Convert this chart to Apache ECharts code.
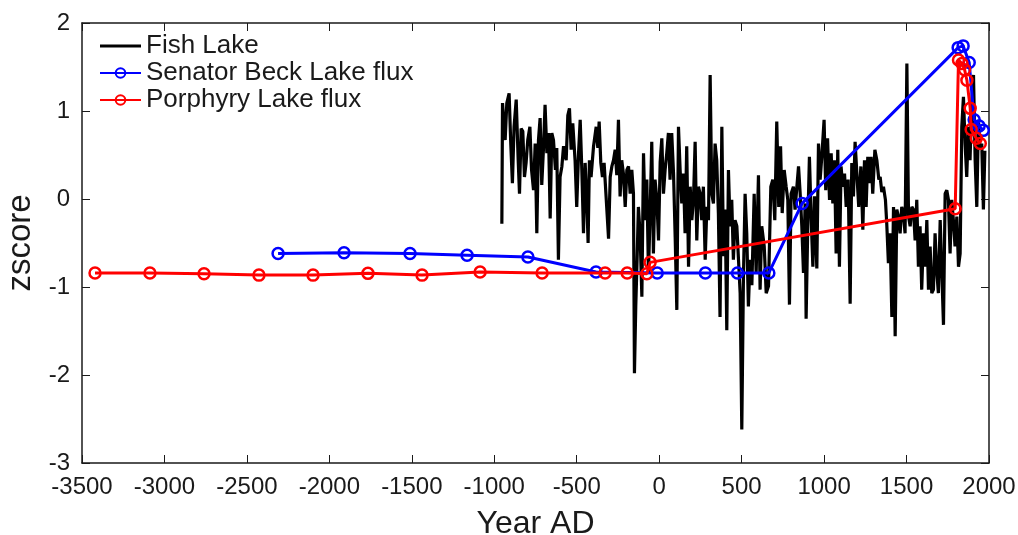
<!DOCTYPE html>
<html>
<head>
<meta charset="utf-8">
<script src="https://cdn.jsdelivr.net/npm/echarts@6/dist/echarts.min.js"></script>
<style>
  html, body { margin: 0; padding: 0; background: #fff; }
  #chart { width: 1018px; height: 535px; }
</style>
</head>
<body>
<div id="chart"></div>
<script>
// Fish Lake record [year AD, zscore]
const fishLake = [
  [-954,-0.28],[-950,1.09],[-944,1.11],[-934,0.67],[-924,1.09],[-910,1.20],[-900,0.63],[-890,0.18],
  [-880,0.82],[-867,1.13],[-855,0.44],[-847,0.06],[-837,0.80],[-827,0.77],[-817,0.25],[-807,0.41],
  [-797,0.67],[-784,0.82],[-774,0.33],[-762,0.10],[-752,0.63],[-742,-0.39],[-732,0.67],[-722,0.92],
  [-712,0.16],[-702,0.56],[-692,1.07],[-681,0.52],[-671,0.75],[-661,-0.22],[-651,0.75],[-641,0.67],
  [-629,0.33],[-621,0.58],[-611,-0.69],[-601,0.25],[-590,0.37],[-580,0.60],[-564,0.44],[-554,0.95],
  [-544,1.03],[-534,0.56],[-524,0.86],[-510,0.44],[-500,-0.09],[-489,0.52],[-479,0.90],[-469,0.33],
  [-459,-0.39],[-449,0.41],[-439,-0.01],[-431,-0.50],[-423,0.44],[-413,0.25],[-398,0.60],[-382,0.82],
  [-372,0.58],[-364,0.88],[-354,0.41],[-344,0.25],[-334,0.41],[-322,0.03],[-307,-0.45],[-297,0.25],
  [-287,0.37],[-277,0.44],[-267,0.56],[-257,0.27],[-247,0.90],[-237,0.03],[-227,0.44],[-217,0.29],
  [-206,-0.09],[-196,0.33],[-186,0.37],[-176,0.06],[-166,0.33],[-156,0.06],[-150,-1.98],[-142,-1.22],
  [-134,-0.69],[-126,-0.09],[-116,-0.39],[-105,-1.11],[-95,0.52],[-85,-0.24],[-75,0.22],[-65,-0.84],
  [-55,-0.16],[-45,0.65],[-35,-0.62],[-25,0.22],[-14,-0.01],[-4,-0.47],[6,0.42],[16,0.69],
  [26,0.06],[36,0.33],[46,0.52],[56,0.75],[66,0.22],[76,0.75],[87,0.29],[97,-0.43],
  [107,-1.26],[117,0.82],[127,0.33],[137,-0.05],[147,0.29],[157,-0.39],[167,0.60],[178,-0.77],
  [188,0.14],[198,-0.24],[208,-0.01],[218,0.65],[228,-0.47],[238,0.14],[248,0.06],[258,-0.24],
  [268,0.14],[279,-0.69],[289,-0.09],[299,-0.24],[309,1.41],[319,0.06],[329,-0.05],[339,0.63],
  [349,0.44],[359,-0.16],[369,-1.34],[380,0.82],[390,-0.65],[400,-0.12],[410,-1.49],[420,0.33],
  [430,-0.31],[440,-0.01],[450,-0.69],[460,-0.24],[471,-0.31],[481,-0.69],[491,-1.07],[501,-2.62],
  [511,-0.88],[521,0.06],[531,-0.39],[541,-1.22],[551,-0.69],[562,-0.98],[576,0.06],[588,-0.84],
  [602,0.27],[612,-1.03],[622,-0.31],[637,-0.54],[649,-1.07],[663,-0.99],[677,0.14],[689,0.22],
  [701,-0.24],[713,0.88],[725,-0.09],[736,0.60],[746,-0.16],[758,0.33],[770,0.14],[780,-0.01],
  [790,-1.20],[800,0.06],[814,0.14],[824,-0.12],[835,0.14],[845,0.37],[855,0.06],[865,-0.31],
  [875,-0.84],[885,-0.05],[891,-1.36],[901,-0.31],[911,0.48],[922,-0.24],[932,-0.77],[942,0.03],
  [956,-0.79],[966,0.63],[976,0.22],[986,0.48],[1000,0.90],[1010,0.10],[1021,0.69],[1033,-0.01],
  [1043,0.52],[1053,-0.05],[1063,0.44],[1073,-0.62],[1083,0.56],[1093,-0.77],[1103,0.37],[1113,0.14],
  [1124,0.29],[1134,-0.09],[1146,0.22],[1158,-1.19],[1168,0.41],[1178,0.03],[1188,0.65],[1198,0.67],
  [1210,-0.09],[1223,0.37],[1235,-0.35],[1245,0.44],[1255,-0.09],[1265,0.48],[1275,0.18],[1285,0.48],
  [1295,0.06],[1308,0.56],[1320,0.44],[1332,0.22],[1340,0.25],[1350,0.08],[1360,0.14],[1372,-0.01],
  [1380,-0.28],[1390,-0.73],[1400,-0.39],[1411,-1.34],[1421,-0.09],[1431,-1.56],[1441,-0.12],[1451,-0.20],
  [1461,-0.39],[1471,-0.09],[1481,-0.16],[1491,-0.39],[1502,1.54],[1512,-0.20],[1522,-0.31],[1532,-0.09],
  [1542,-0.12],[1552,-0.47],[1562,-0.01],[1572,-0.77],[1582,-0.31],[1592,-1.03],[1603,-0.39],[1613,-0.77],
  [1623,-0.24],[1633,-1.03],[1643,-0.54],[1653,-1.07],[1663,-1.03],[1673,-0.39],[1683,-0.81],[1693,-1.07],
  [1704,-0.24],[1714,-0.84],[1724,-1.43],[1734,0.06],[1744,0.10],[1754,-0.01],[1764,-0.62],[1774,-0.01],
  [1784,-0.24],[1794,-0.54],[1805,-0.20],[1815,-0.77],[1825,-0.62],[1835,0.82],[1845,1.16],[1855,0.63],
  [1865,0.25],[1875,0.82],[1885,0.44],[1895,1.09],[1906,1.41],[1916,0.44],[1926,-0.09],[1936,0.90],
  [1946,0.56],[1956,0.63],[1966,-0.12],[1975,0.55]
];

// Senator Beck Lake flux [year AD, zscore]
const senatorBeck = [
  [-2311,-0.62],[-1911,-0.61],[-1511,-0.62],[-1165,-0.64],[-796,-0.66],[-383,-0.83],
  [-12,-0.84],[280,-0.84],[475,-0.84],[665,-0.84],[867,-0.05],[1813,1.72],[1843,1.74],
  [1880,1.55],[1910,0.90],[1940,0.83],[1965,0.78]
];

// Porphyry Lake flux [year AD, zscore]
const porphyry = [
  [-3421,-0.84],[-3088,-0.84],[-2760,-0.85],[-2427,-0.865],[-2099,-0.865],[-1766,-0.845],
  [-1438,-0.865],[-1086,-0.83],[-710,-0.84],[-328,-0.84],[-194,-0.84],[-75,-0.85],[-55,-0.72],
  [1795,-0.11],[1815,1.58],[1836,1.54],[1852,1.47],[1866,1.35],[1886,1.03],[1892,0.79],
  [1923,0.69],[1947,0.63]
];

const seriesNames = ['Fish Lake', 'Senator Beck Lake flux', 'Porphyry Lake flux'];

const font = "'Liberation Sans', Arial, Helvetica, sans-serif";
const chart = echarts.init(document.getElementById('chart'));

const frameLine = { show: true, onZero: false, lineStyle: { color: '#1a1a1a', width: 1.5 } };
const innerTick = { show: true, inside: true, length: 8, lineStyle: { color: '#1a1a1a', width: 1 } };
const plainNum = (v) => String(v);

const option = {
  animation: false,
  backgroundColor: '#fff',
  textStyle: { fontFamily: font },
  grid: { left: 82, right: 29, top: 23, bottom: 72, containLabel: false, outerBoundsMode: 'none' },
  legend: {
    data: [
      { name: seriesNames[0], icon: 'path://M0,0 L40,0 L40,3 L0,3 Z' },
      { name: seriesNames[1] },
      { name: seriesNames[2] }
    ],
    orient: 'vertical',
    left: 94,
    top: 28,
    itemWidth: 41,
    itemHeight: 12,
    itemGap: 1,
    textStyle: { fontSize: 26, color: '#1a1a1a', fontFamily: font }
  },
  xAxis: [
    {
      type: 'value', min: -3500, max: 2000, interval: 500,
      name: 'Year AD', nameLocation: 'middle', nameGap: 45,
      nameTextStyle: { fontSize: 32, color: '#1a1a1a', fontFamily: font },
      axisLine: frameLine, axisTick: innerTick,
      axisLabel: { fontSize: 24, color: '#1a1a1a', margin: 12, fontFamily: font, formatter: plainNum },
      splitLine: { show: false }
    },
    {
      type: 'value', min: -3500, max: 2000, interval: 500, position: 'top',
      axisLine: frameLine, axisTick: innerTick,
      axisLabel: { show: false }, splitLine: { show: false }
    }
  ],
  yAxis: [
    {
      type: 'value', min: -3, max: 2, interval: 1,
      name: 'zscore', nameLocation: 'middle', nameGap: 39,
      nameTextStyle: { fontSize: 33, color: '#1a1a1a', fontFamily: font },
      axisLine: frameLine, axisTick: innerTick,
      axisLabel: { fontSize: 24, color: '#1a1a1a', margin: 12, fontFamily: font, formatter: plainNum },
      splitLine: { show: false }
    },
    {
      type: 'value', min: -3, max: 2, interval: 1, position: 'right',
      axisLine: frameLine, axisTick: innerTick,
      axisLabel: { show: false }, splitLine: { show: false }
    }
  ],
  series: [
    {
      name: seriesNames[0],
      type: 'line',
      data: fishLake,
      showSymbol: false,
      symbol: 'none',
      lineStyle: { color: '#000', width: 3.2 },
      itemStyle: { color: '#000' },
      z: 1
    },
    {
      name: seriesNames[1],
      type: 'line',
      data: senatorBeck,
      symbol: 'circle',
      symbolSize: 11,
      lineStyle: { color: '#0000ff', width: 3 },
      itemStyle: { color: 'rgba(0,0,0,0)', borderColor: '#0000ff', borderWidth: 2.5 },
      z: 2
    },
    {
      name: seriesNames[2],
      type: 'line',
      data: porphyry,
      symbol: 'circle',
      symbolSize: 11,
      lineStyle: { color: '#ff0000', width: 3 },
      itemStyle: { color: 'rgba(0,0,0,0)', borderColor: '#ff0000', borderWidth: 2.5 },
      z: 3
    }
  ]
};

chart.setOption(option);
</script>
</body>
</html>
